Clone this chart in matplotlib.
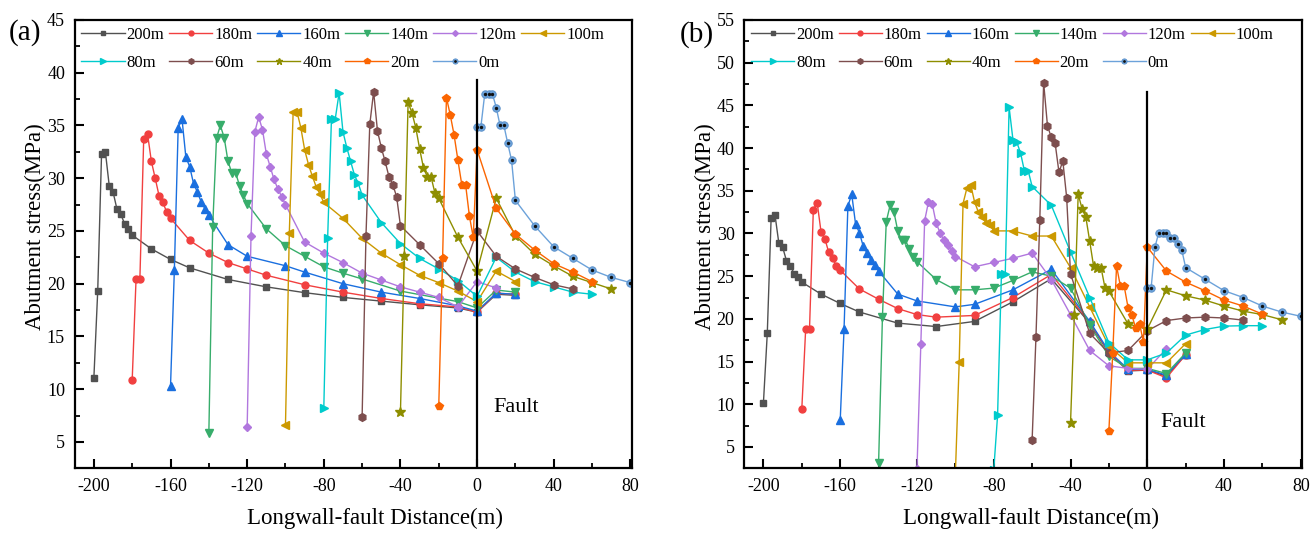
import matplotlib
matplotlib.use('Agg')
import matplotlib.pyplot as plt
from matplotlib.ticker import MultipleLocator

plt.rcParams['font.family'] = ['Liberation Serif', 'DejaVu Serif']
plt.rcParams['axes.unicode_minus'] = False

labels = ['200m', '180m', '160m', '140m', '120m', '100m', '80m', '60m', '40m', '20m', '0m']
colors = ['#515151', '#F14040', '#1A6FDF', '#37AD6B', '#B177DE', '#CC9900',
          '#00CBCC', '#7D4E4E', '#8E8E00', '#FB6501', '#6CA2DA']
markers = ['s', 'o', '^', 'v', 'D', '<', '>', 'h', '*', 'p', 'o']
msizes = [4.4, 5.0, 5.8, 5.8, 4.2, 5.8, 5.8, 5.6, 7.2, 6.0, 5.4]

# ---------------- panel (a) ----------------
a_x200 = [-200, -198, -196, -194, -192, -190, -188, -186, -184, -182, -180, -170, -160, -150, -130, -110, -90, -70, -50, -30, -10, 0, 10, 20]
a_y200 = [11.1, 19.3, 32.3, 32.5, 29.3, 28.7, 27.1, 26.6, 25.7, 25.2, 24.6, 23.3, 22.3, 21.5, 20.4, 19.7, 19.15, 18.7, 18.35, 18.0, 17.7, 17.3, 19.0, 18.9]
a_x180 = [-180, -178, -176, -174, -172, -170, -168, -166, -164, -162, -160, -150, -140, -130, -120, -110, -90, -70, -50, -30, -10, 0, 10, 20]
a_y180 = [10.9, 20.4, 20.4, 33.7, 34.2, 31.6, 30.0, 28.35, 27.7, 26.8, 26.2, 24.1, 22.9, 22.0, 21.4, 20.8, 19.9, 19.2, 18.6, 18.1, 17.8, 17.3, 19.1, 19.0]
a_x160 = [-160, -158, -156, -154, -152, -150, -148, -146, -144, -142, -140, -130, -120, -100, -90, -70, -50, -30, -10, 0, 10, 20]
a_y160 = [10.3, 21.3, 34.8, 35.6, 32.0, 31.1, 29.5, 28.7, 27.75, 27.1, 26.5, 23.7, 22.6, 21.7, 21.1, 20.0, 19.2, 18.6, 17.9, 17.4, 19.1, 19.0]
a_x140 = [-140, -138, -136, -134, -132, -130, -128, -126, -124, -122, -120, -110, -100, -90, -80, -70, -60, -40, -10, 0, 10, 20]
a_y140 = [5.8, 25.4, 33.8, 35.0, 33.85, 31.6, 30.5, 30.5, 29.3, 28.4, 27.6, 25.2, 23.6, 22.6, 21.6, 21.0, 20.45, 19.3, 18.3, 17.7, 19.4, 19.2]
a_x120 = [-120, -118, -116, -114, -112, -110, -108, -106, -104, -102, -100, -90, -80, -70, -60, -50, -40, -30, -20, -10, 0, 10]
a_y120 = [6.4, 24.5, 34.4, 35.8, 34.6, 32.3, 31.1, 29.9, 29.0, 28.25, 27.5, 23.95, 22.9, 22.0, 21.0, 20.35, 19.7, 19.2, 18.7, 17.8, 20.2, 19.6]
a_x100 = [-100, -98, -96, -94, -92, -90, -88, -86, -84, -82, -80, -70, -60, -50, -40, -30, -20, -10, 0, 10, 20]
a_y100 = [6.6, 24.8, 36.3, 36.3, 34.8, 32.7, 31.3, 30.2, 29.2, 28.5, 27.7, 26.2, 24.3, 22.9, 21.8, 20.8, 20.1, 19.3, 18.3, 21.2, 20.2]
a_x80 = [-80, -78, -76, -74, -72, -70, -68, -66, -64, -62, -60, -50, -40, -30, -20, -10, 0, 10, 20, 30, 40, 50, 60]
a_y80 = [8.2, 24.3, 35.65, 35.65, 38.1, 34.4, 32.9, 31.6, 30.3, 29.5, 28.4, 25.8, 23.8, 22.4, 21.4, 20.3, 18.8, 22.5, 21.1, 20.2, 19.7, 19.2, 19.0]
a_x60 = [-60, -58, -56, -54, -52, -50, -48, -46, -44, -42, -40, -30, -20, -10, 0, 10, 20, 30, 40, 50]
a_y60 = [7.4, 24.5, 35.1, 38.2, 34.5, 32.9, 31.6, 30.15, 29.4, 28.25, 25.5, 23.7, 21.9, 19.8, 25.0, 22.6, 21.4, 20.6, 19.9, 19.5]
a_x40 = [-40, -38, -36, -34, -32, -30, -28, -26, -24, -22, -20, -10, 0, 10, 20, 30, 40, 50, 60, 70]
a_y40 = [7.8, 22.6, 37.2, 36.2, 34.8, 32.8, 31.0, 30.15, 30.1, 28.6, 28.1, 24.4, 21.2, 28.1, 24.55, 22.8, 21.7, 20.7, 20.1, 19.5]
a_x20 = [-20, -18, -16, -14, -12, -10, -8, -6, -4, -2, 0, 10, 20, 30, 40, 50, 60]
a_y20 = [8.4, 22.4, 37.65, 36.0, 34.1, 31.7, 29.4, 29.4, 26.4, 24.4, 32.7, 27.15, 24.7, 23.2, 21.9, 21.1, 20.2]
a_x0 = [0, 2, 4, 6, 8, 10, 12, 14, 16, 18, 20, 30, 40, 50, 60, 70, 80]
a_y0 = [34.9, 34.9, 38.0, 38.0, 38.0, 36.7, 35.0, 35.0, 33.3, 31.7, 27.9, 25.5, 23.5, 22.4, 21.3, 20.6, 20.1]

# ---------------- panel (b) ----------------
b_x200 = [-200, -198, -196, -194, -192, -190, -188, -186, -184, -182, -180, -170, -160, -150, -130, -110, -90, -70, -50, -30, -20, -10, 0, 10, 20]
b_y200 = [10.2, 18.3, 31.8, 32.2, 28.9, 28.4, 26.8, 26.2, 25.3, 24.9, 24.3, 22.9, 21.8, 20.8, 19.5, 19.1, 19.7, 22.0, 24.7, 19.5, 16.0, 13.9, 14.0, 13.3, 15.8]
b_x180 = [-180, -178, -176, -174, -172, -170, -168, -166, -164, -162, -160, -150, -140, -130, -120, -110, -90, -70, -50, -30, -20, -10, 0, 10, 20]
b_y180 = [9.5, 18.8, 18.8, 32.8, 33.6, 30.2, 29.4, 27.8, 27.1, 26.2, 25.7, 23.5, 22.3, 21.2, 20.5, 20.2, 20.4, 22.5, 25.2, 19.6, 16.1, 14.0, 14.0, 13.1, 15.8]
b_x160 = [-160, -158, -156, -154, -152, -150, -148, -146, -144, -142, -140, -130, -120, -100, -90, -70, -50, -30, -20, -10, 0, 10, 20]
b_y160 = [8.1, 18.8, 33.2, 34.6, 31.1, 30.1, 28.5, 27.7, 26.9, 26.3, 25.6, 22.9, 22.1, 21.4, 21.7, 23.4, 25.8, 19.7, 16.2, 14.1, 14.1, 13.4, 15.9]
b_x140 = [-140, -138, -136, -134, -132, -130, -128, -126, -124, -122, -120, -110, -100, -90, -80, -70, -60, -50, -40, -30, -20, -10, 0, 10, 20]
b_y140 = [3.1, 20.2, 31.4, 33.3, 32.5, 30.3, 29.2, 29.2, 28.2, 27.3, 26.7, 24.6, 23.4, 23.4, 23.6, 24.5, 25.5, 25.0, 23.6, 19.3, 15.6, 14.2, 14.2, 13.6, 16.0]
b_x120 = [-120, -118, -116, -114, -112, -110, -108, -106, -104, -102, -100, -90, -80, -70, -60, -50, -40, -30, -20, -10, 0, 10]
b_y120 = [2.4, 17.0, 31.5, 33.7, 33.4, 31.2, 30.1, 29.2, 28.6, 28.0, 27.3, 26.1, 26.6, 27.1, 27.7, 24.6, 20.5, 16.3, 14.5, 14.2, 14.1, 16.5]
b_x100 = [-100, -98, -96, -94, -92, -90, -88, -86, -84, -82, -80, -70, -60, -50, -40, -30, -20, -10, 0, 10, 20]
b_y100 = [1.8, 14.9, 33.5, 35.3, 35.7, 33.7, 32.5, 31.9, 31.2, 31.0, 30.3, 30.3, 29.7, 29.7, 26.0, 21.4, 16.8, 14.85, 14.85, 14.85, 17.1]
b_x80 = [-80, -78, -76, -74, -72, -70, -68, -66, -64, -62, -60, -50, -40, -30, -20, -10, 0, 10, 20, 30, 40, 50, 60]
b_y80 = [2.3, 8.7, 25.2, 25.2, 44.8, 41.0, 40.7, 39.4, 37.3, 37.3, 35.5, 33.3, 27.85, 22.5, 17.2, 15.2, 15.2, 16.0, 18.1, 18.75, 19.15, 19.2, 19.2]
b_x60 = [-60, -58, -56, -54, -52, -50, -48, -46, -44, -42, -40, -30, -20, -10, 0, 10, 20, 30, 40, 50]
b_y60 = [5.8, 17.9, 31.6, 47.65, 42.6, 41.25, 40.55, 37.15, 38.5, 34.2, 25.3, 18.3, 16.0, 16.3, 18.6, 19.8, 20.1, 20.2, 20.1, 19.85]
b_x40 = [-40, -38, -36, -34, -32, -30, -28, -26, -24, -22, -20, -10, 0, 10, 20, 30, 40, 50, 60, 70]
b_y40 = [7.75, 20.4, 34.6, 32.9, 31.9, 29.1, 26.2, 26.0, 25.9, 23.6, 23.25, 19.4, 18.8, 23.4, 22.7, 22.2, 21.5, 20.9, 20.5, 19.9]
b_x20 = [-20, -18, -16, -14, -12, -10, -8, -6, -4, -2, 0, 10, 20, 30, 40, 50, 60]
b_y20 = [6.9, 16.0, 26.2, 23.8, 23.8, 21.3, 20.4, 18.9, 19.4, 17.3, 28.4, 25.6, 24.3, 23.3, 22.2, 21.5, 20.55]
b_x0 = [0, 2, 4, 6, 8, 10, 12, 14, 16, 18, 20, 30, 40, 50, 60, 70, 80]
b_y0 = [23.6, 23.6, 28.4, 30.1, 30.1, 30.1, 29.5, 29.5, 28.8, 28.05, 26.0, 24.65, 23.3, 22.5, 21.5, 20.8, 20.3]

a_series = [(a_x200, a_y200), (a_x180, a_y180), (a_x160, a_y160), (a_x140, a_y140),
            (a_x120, a_y120), (a_x100, a_y100), (a_x80, a_y80), (a_x60, a_y60),
            (a_x40, a_y40), (a_x20, a_y20), (a_x0, a_y0)]
b_series = [(b_x200, b_y200), (b_x180, b_y180), (b_x160, b_y160), (b_x140, b_y140),
            (b_x120, b_y120), (b_x100, b_y100), (b_x80, b_y80), (b_x60, b_y60),
            (b_x40, b_y40), (b_x20, b_y20), (b_x0, b_y0)]

# legend fills column by column -> reorder so rows read 200..100 / 80..0
leg_order = [0, 6, 1, 7, 2, 8, 3, 9, 4, 10, 5]


def draw_panel(ax, series, ymax, fault_top, fault_pos):
    handles = []
    for (x, y), lab, c, m, ms in zip(series, labels, colors, markers, msizes):
        if lab == '0m':
            l1, = ax.plot(x, y, color=c, lw=1.0, marker=m, ms=ms,
                          mfc=c, mec='#5A8FC8', mew=0.6)
            l2, = ax.plot(x, y, ls='none', marker='o', ms=1.4, color='#111111')
            handles.append((l1, l2))
        else:
            l1, = ax.plot(x, y, color=c, lw=1.0, marker=m, ms=ms, mec=c, mfc=c)
            handles.append(l1)

    ax.plot([0, 0], [0, fault_top], color='black', lw=1.6)
    ax.text(fault_pos[0], fault_pos[1], 'Fault', fontsize=16, ha='left', va='center')

    ax.set_xlim(-210, 80.6)
    ax.set_ylim(2.5, ymax)
    ax.xaxis.set_major_locator(MultipleLocator(40))
    ax.xaxis.set_minor_locator(MultipleLocator(20))
    ax.yaxis.set_major_locator(MultipleLocator(5))
    ax.yaxis.set_minor_locator(MultipleLocator(2.5))
    ax.tick_params(which='both', direction='in', top=False, right=False,
                   labelsize=13)
    ax.tick_params(which='major', length=6.5, width=1.5, pad=7)
    ax.tick_params(which='minor', length=3.5, width=1.3)
    for sp in ax.spines.values():
        sp.set_linewidth(1.6)

    ax.set_xlabel('Longwall-fault Distance(m)', fontsize=16.5)
    ax.set_ylabel('Abutment stress(MPa)', fontsize=16.5)

    ax.legend([handles[i] for i in leg_order], [labels[i] for i in leg_order],
              ncol=6, loc='upper left', bbox_to_anchor=(0, 1), frameon=False,
              fontsize=12, handlelength=2.6, handletextpad=0.1,
              columnspacing=0.3, labelspacing=0.75, borderpad=0.3,
              borderaxespad=0.1, markerscale=0.7, numpoints=1)


fig = plt.figure(figsize=(13.11, 5.33), dpi=100)
ax1 = fig.add_axes([0.0570, 0.1214, 0.4247, 0.8411])
ax2 = fig.add_axes([0.5677, 0.1214, 0.4254, 0.8411])

draw_panel(ax1, a_series, 45, 39.3, (8.4, 8.3))
draw_panel(ax2, b_series, 55, 46.6, (6.6, 7.9))

ax1.xaxis.set_label_coords(0.54, -0.088)
ax2.xaxis.set_label_coords(0.515, -0.088)
ax1.yaxis.set_label_coords(-0.052, 0.54)
ax2.yaxis.set_label_coords(-0.051, 0.54)

fig.text(25 / 1311, 1 - 33 / 533, '(a)', fontsize=21, ha='center', va='center')
fig.text(697 / 1311, 1 - 35 / 533, '(b)', fontsize=21, ha='center', va='center')

fig.savefig('out.png', dpi=100)
